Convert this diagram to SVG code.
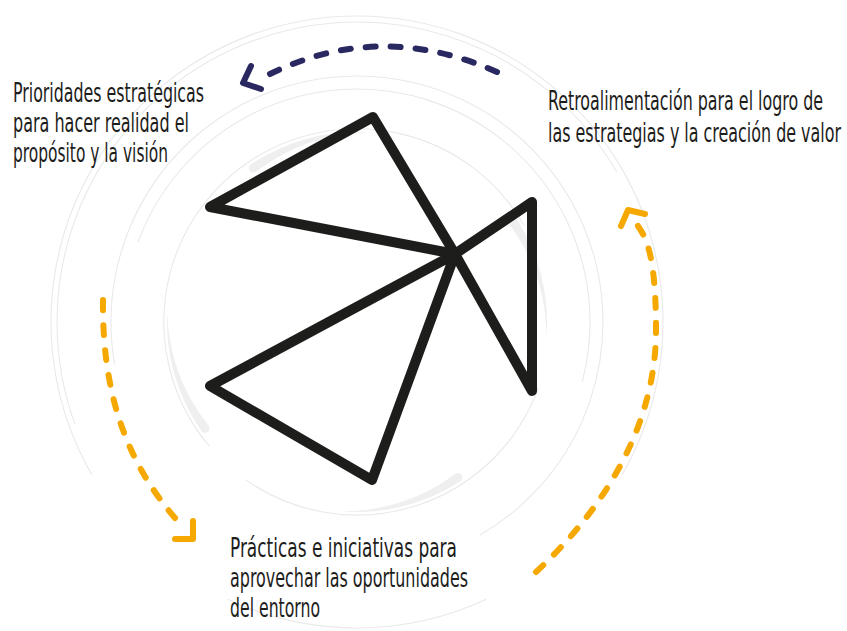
<svg xmlns="http://www.w3.org/2000/svg" width="847" height="631" viewBox="0 0 847 631">
  <defs>
    <style>
      .ring { fill: none; stroke: #e9e9e9; stroke-width: 1.1; }
      .swoosh { fill: #efefef; }
      .emblem { fill: none; stroke: #1d1d1b; stroke-width: 10; stroke-linejoin: round; stroke-linecap: round; }
      .label { font-family: "DejaVu Sans Condensed", "Liberation Sans", sans-serif; font-size: 26px; fill: #1d1d1b; }
      .dash { fill: none; stroke-width: 6; stroke-linecap: round; stroke-dasharray: 10 15; }
      .head { fill: none; stroke-width: 6; stroke-linecap: round; stroke-linejoin: round; }
      .navy { stroke: #2a2860; }
      .amber { stroke: #f5a800; }
    </style>
    <!-- tapered swoosh drawn around the origin, head at angle 0, tail sweeping clockwise -->
    <path id="swoosh" d="M190,0 A190,190 0 0 1 149.7,117 Q185,63.7 181,0 A4.5,4.5 0 0 1 190,0 Z"/>
  </defs>

  <!-- faint background swirl -->
  <g id="rings">
    <path class="ring" d="M92,475 A306,306 0 1 1 622,475"/>
    <path class="ring" d="M486.3,599.3 A306,306 0 0 1 227.7,599.3"/>
    <path class="ring" d="M75.1,424.6 A300,300 0 0 1 616.8,172"/>
    <path class="ring" d="M114.7,364.7 A246,246 0 1 1 480,535"/>
    <path class="ring" d="M138.1,242.3 A233,233 0 0 1 582.1,382.3"/>
    <path class="ring" d="M209.2,446.1 A193,193 0 1 1 524.1,225.5"/>
    <path class="ring" d="M538.4,388 A193,193 0 0 1 246.3,480.1"/>
    <g transform="translate(357 322)">
      <use href="#swoosh" class="swoosh" transform="rotate(-33)"/>
      <use href="#swoosh" class="swoosh" transform="rotate(57)"/>
      <use href="#swoosh" class="swoosh" transform="rotate(145)"/>
      <use href="#swoosh" class="swoosh" transform="rotate(236)"/>
    </g>
  </g>

  <!-- central emblem: three triangles sharing one hub -->
  <g id="emblem">
    <polygon class="emblem" points="455,254 210,207 373,117"/>
    <polygon class="emblem" points="455,254 532,202 532,391"/>
    <polygon class="emblem" points="455,254 210,386 372,480"/>
  </g>

  <!-- labels are set in a narrowed face: horizontal scale 0.68 -->
  <g id="label-prioridades">
    <text class="label" transform="matrix(0.68 0 0 1 13 102)" textLength="280.9" lengthAdjust="spacingAndGlyphs">Prioridades estratégicas</text>
    <text class="label" transform="matrix(0.68 0 0 1 13 132)" textLength="258.8" lengthAdjust="spacingAndGlyphs">para hacer realidad el</text>
    <text class="label" transform="matrix(0.68 0 0 1 13 162)" textLength="227.9" lengthAdjust="spacingAndGlyphs">propósito y la visión</text>
  </g>

  <g id="label-retroalimentacion">
    <text class="label" transform="matrix(0.68 0 0 1 548 110)" textLength="404.4" lengthAdjust="spacingAndGlyphs">Retroalimentación para el logro de</text>
    <text class="label" transform="matrix(0.68 0 0 1 548 142)" textLength="430.9" lengthAdjust="spacingAndGlyphs">las estrategias y la creación de valor</text>
  </g>

  <g id="label-practicas">
    <text class="label" transform="matrix(0.68 0 0 1 230 557)" textLength="333.8" lengthAdjust="spacingAndGlyphs">Prácticas e iniciativas para</text>
    <text class="label" transform="matrix(0.68 0 0 1 230 587)" textLength="350" lengthAdjust="spacingAndGlyphs">aprovechar las oportunidades</text>
    <text class="label" transform="matrix(0.68 0 0 1 230 617)" textLength="132.4" lengthAdjust="spacingAndGlyphs">del entorno</text>
  </g>

  <g id="connectors">
    <!-- feedback loop back to the priorities -->
    <path class="dash navy" d="M497,72 Q378,19 266,76"/>
    <polyline class="head navy" points="251,66 243,83 261,89"/>
    <!-- priorities down to practices -->
    <path class="dash amber" d="M103,300 C102,400 130,470 184,528"/>
    <polyline class="head amber" points="193,521 193,539 175,539"/>
    <!-- practices up to feedback -->
    <path class="dash amber" d="M536,572 C605,508 656,425 656,330 S640,232 632,217"/>
    <polyline class="head amber" points="621,226 628,210 645,214"/>
  </g>
</svg>
